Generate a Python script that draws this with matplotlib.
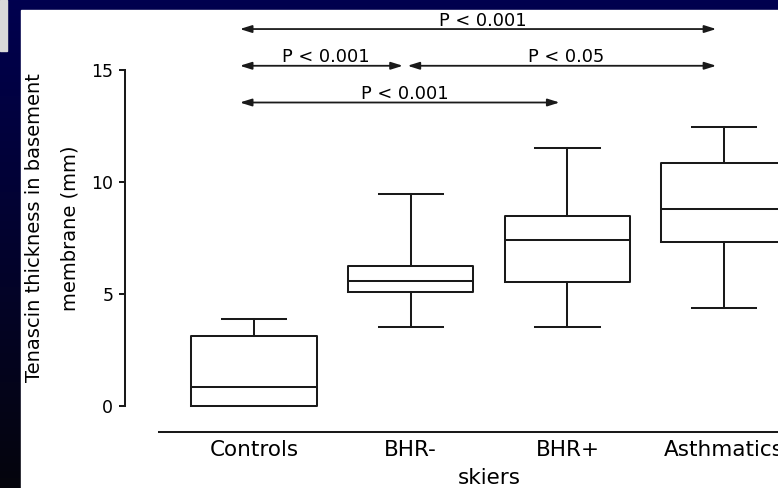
import numpy as np
import matplotlib.pyplot as plt
import matplotlib.transforms as mtransforms
from matplotlib.patches import Rectangle

# 群ごとの箱ひげ図の要約値 (mm)
groups = ['Controls', 'BHR-', 'BHR+', 'Asthmatics']
whisker_low = [0.0, 3.52, 3.52, 4.36]
q1 = [0.0, 5.07, 5.52, 7.30]
median = [0.85, 5.56, 7.43, 8.81]
q3 = [3.12, 6.23, 8.50, 10.86]
whisker_high = [3.87, 9.48, 11.53, 12.46]

# 群間比較 (群の組と P 値)
comp_pairs = [(0, 3), (0, 1), (1, 3), (0, 2)]
comp_row = [0, 1, 1, 2]
comp_label = ['P < 0.001', 'P < 0.001', 'P < 0.05', 'P < 0.001']

yticks = [0, 5, 10, 15]

LINE = '#1a1a1a'

fig = plt.figure(figsize=(7.78, 4.88), dpi=100)

# 背景 (紺のグラデーション + 白い台紙)
bg = fig.add_axes([0, 0, 1, 1])
grad = np.linspace(0, 1, 256)[:, None]
top = np.array([0.0, 0.0, 0.31])
bottom = np.array([0.02, 0.02, 0.05])
img = top[None, None, :] * (1 - grad[:, :, None]) + bottom[None, None, :] * grad[:, :, None]
bg.imshow(img, aspect='auto', extent=[0, 1, 0, 1])
bg.add_patch(Rectangle((21 / 778, 0), 1, 478 / 488, color='white'))
bg.add_patch(Rectangle((0, 437 / 488), 7 / 778, 51 / 488, color='#d9d9d9'))
bg.set_xlim(0, 1)
bg.set_ylim(0, 1)
bg.axis('off')

ax = fig.add_axes([125 / 778, 56 / 488, 653 / 778, 422 / 488])
ax.patch.set_alpha(0)

stats = []
for i in range(len(groups)):
    stats.append({'whislo': whisker_low[i], 'q1': q1[i], 'med': median[i],
                  'q3': q3[i], 'whishi': whisker_high[i], 'fliers': []})

lp = dict(color=LINE, linewidth=1.45)
ax.bxp(stats, positions=range(len(groups)), widths=0.8, capwidths=0.41,
       showfliers=False, boxprops=lp, medianprops=lp,
       whiskerprops=lp, capprops=lp)

ax.set_xlim(-0.823, 3.344)
ax.set_ylim(-1.161, 17.68)

# 軸
ax.spines['top'].set_visible(False)
ax.spines['right'].set_visible(False)
ax.spines['left'].set_bounds(0, 15)
ax.spines['bottom'].set_bounds(-0.607, 3.5)
for s in ['left', 'bottom']:
    ax.spines[s].set_color(LINE)
    ax.spines[s].set_linewidth(1.45)

ax.set_yticks(yticks)
ax.set_yticklabels([str(v) for v in yticks], fontsize=12.5)
ax.tick_params(axis='y', length=4.5, width=1.45, color=LINE, pad=4)
ax.set_xticks(range(len(groups)))
ax.set_xticklabels(groups, fontsize=15.5)
ax.tick_params(axis='x', length=0, pad=6)

trans = mtransforms.blended_transform_factory(ax.transData, ax.transAxes)
ax.text(1.5, -0.123, 'skiers', transform=trans, ha='center', va='baseline',
        fontsize=15.5)

fig.text(35 / 778, 1 - 228 / 488, 'Tenascin thickness in basement',
         rotation=90, ha='center', va='center', fontsize=14)
fig.text(70 / 778, 1 - 228 / 488, 'membrane (mm)',
         rotation=90, ha='center', va='center', fontsize=14)

# 有意差の矢印
for (i, j), row, lab in zip(comp_pairs, comp_row, comp_label):
    x0 = i - 0.09 if i == 0 else i - 0.02
    x1 = j - 0.05
    y = 16.83 - 1.64 * row
    ax.annotate('', xy=(x1, y), xytext=(x0, y),
                arrowprops=dict(arrowstyle='<|-|>,head_length=0.7,head_width=0.22',
                                color=LINE, lw=1.3, shrinkA=0, shrinkB=0),
                annotation_clip=False)
    ax.annotate(lab, xy=((x0 + x1) / 2 + 0.03, y), xytext=(0, 2.5),
                textcoords='offset points', ha='center', va='baseline',
                fontsize=12.8, annotation_clip=False)

plt.savefig('out.png', dpi=100)
